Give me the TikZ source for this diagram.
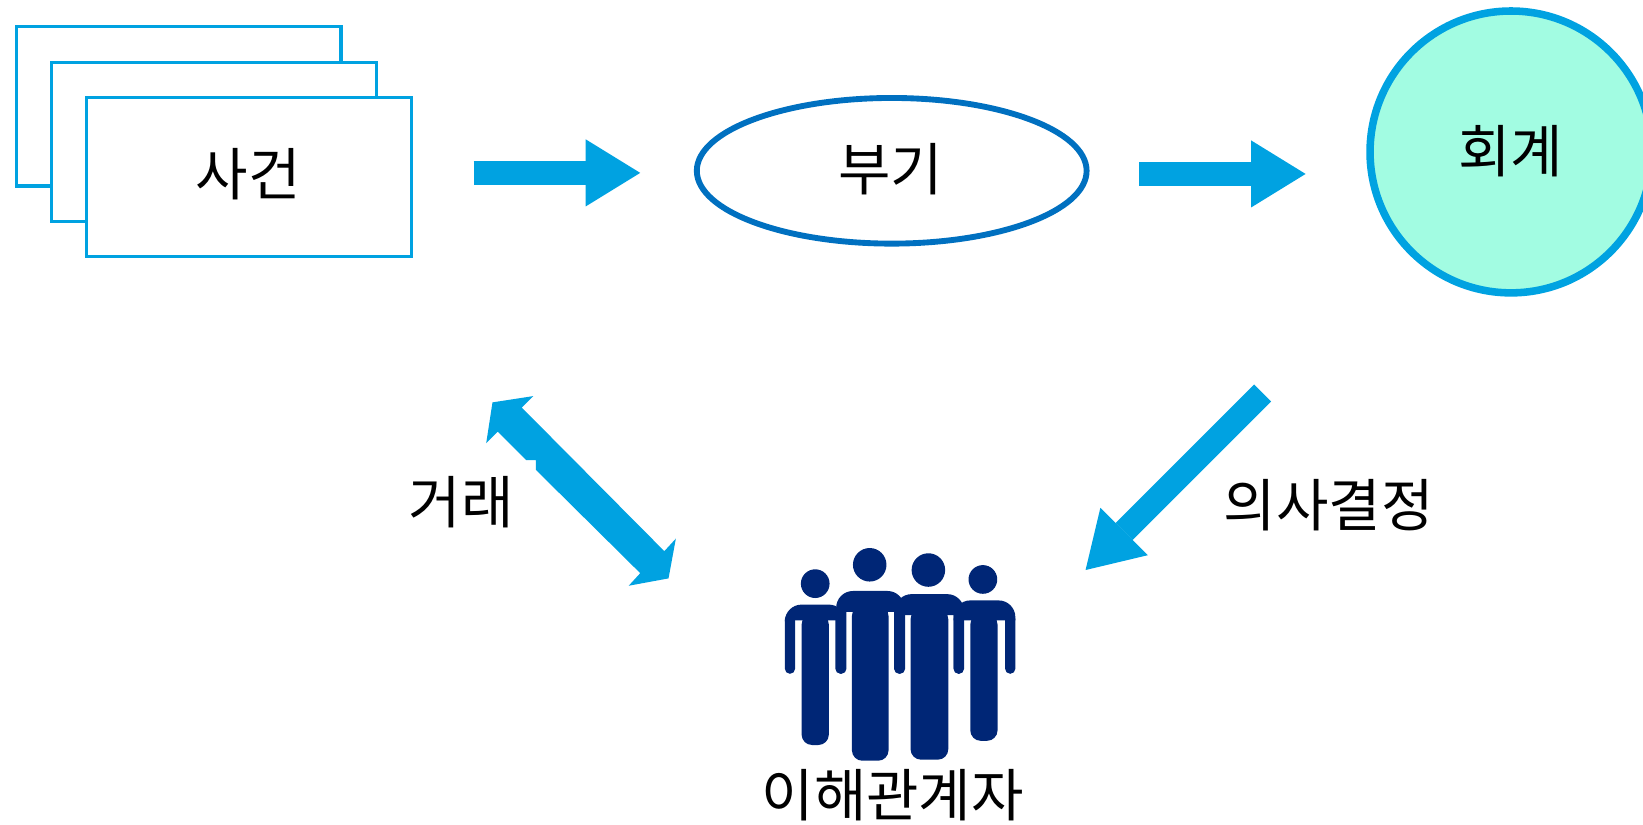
\documentclass[tikz,border=0pt]{standalone}
\usepackage{fontspec}
\setmainfont{Noto Sans CJK KR}
\usetikzlibrary{arrows.meta,shapes.geometric}
\definecolor{skyb}{HTML}{00A2E1}
\definecolor{ovalb}{HTML}{0070C0}
\definecolor{mint}{HTML}{A2FCE2}
\definecolor{navyp}{HTML}{002676}
\tikzset{
  x=0.5pt,y=-0.5pt,
  card/.style={draw=skyb,fill=white,line width=1.6pt,minimum width=155pt,minimum height=76pt,inner sep=0pt},
  oval/.style={ellipse,draw=ovalb,fill=white,line width=2.8pt,minimum width=186pt,minimum height=69.5pt,inner sep=0pt},
  round/.style={circle,draw=skyb,fill=mint,line width=3.6pt,minimum size=134.5pt,inner sep=0pt},
  blockarrow/.style={draw=skyb,line width=11.5pt,-{Triangle[length=26pt,width=32pt,line width=0pt,fill=skyb]}},
  label/.style={font=\fontsize{27.2pt}{32pt}\selectfont,text=black,inner sep=0pt,anchor=center}
}
\newcommand{\folk}[9]{% headx heady headr armL tL tR armR top pit
  \fill[navyp] (#1,#2) circle[radius=#3*0.5pt];
  \fill[navyp] (#4,#9) [rounded corners=8pt] -- (#4,#8) -- (#7,#8) [sharp corners] -- (#7,#9) -- cycle;
  \fill[navyp,rounded corners=2.4pt] (#4,#9-6) rectangle (#4+9.8,643);
  \fill[navyp,rounded corners=2.4pt] (#7-9.8,#9-6) rectangle (#7,643);
  \fill[navyp,rounded corners=5pt] (#5,#9-6) rectangle (#6,\folkbot);
}
\begin{document}
\begin{tikzpicture}
\useasboundingbox (0,0) rectangle (1568,786.4);
\clip (0,0) rectangle (1568,786.4);
\node[card] (c1) at (170.5,101.5) {};
\node[card] (c2) at (204,135.5) {};
\node[card] (c3) at (237.5,169) {};
\node[label] (t1) at (237,166) {사건};
\node[oval] (bugi) at (851,163) {};
\node[label] (t2) at (850,161) {부기};
\node[round] (hoe) at (1442,145) {};
\node[label] (t3) at (1442,144) {회계};
\coordinate (a1s) at (452,165);
\coordinate (a1e) at (611,165);
\coordinate (a2s) at (1087,166);
\coordinate (a2e) at (1246,166);
\coordinate (a3s) at (1205,375);
\coordinate (a3e) at (1036,544);
\draw[blockarrow] (a1s) -- (a1e);
\draw[blockarrow] (a2s) -- (a2e);
\draw[blockarrow] (a3s) -- (a3e);
\fill[skyb] (470,384) -- (509,378) -- (498,389) -- (634,526) -- (645,514) -- (638,552) -- (600,559) -- (611,547) -- (511.5,448.5) -- (511.5,439) -- (502,439) -- (475,412) -- (464,423) -- cycle;
\node[label] (t4) at (440,479) {거래};
\node[label] (t5) at (1268,482) {의사결정};
\def\folkbot{711}
\folk{778}{557}{13.7}{749}{765}{791}{807}{577}{592}
\def\folkbot{726}
\folk{830}{539}{16}{798}{813}{848}{863}{564}{584}
\def\folkbot{725}
\folk{886}{544}{16}{854}{869}{905}{920}{567}{587}
\def\folkbot{707}
\folk{938}{553}{13.7}{910}{926}{952}{969}{573}{592}
\node[label] (t6) at (852,759) {이해관계자};
\end{tikzpicture}
\end{document}
